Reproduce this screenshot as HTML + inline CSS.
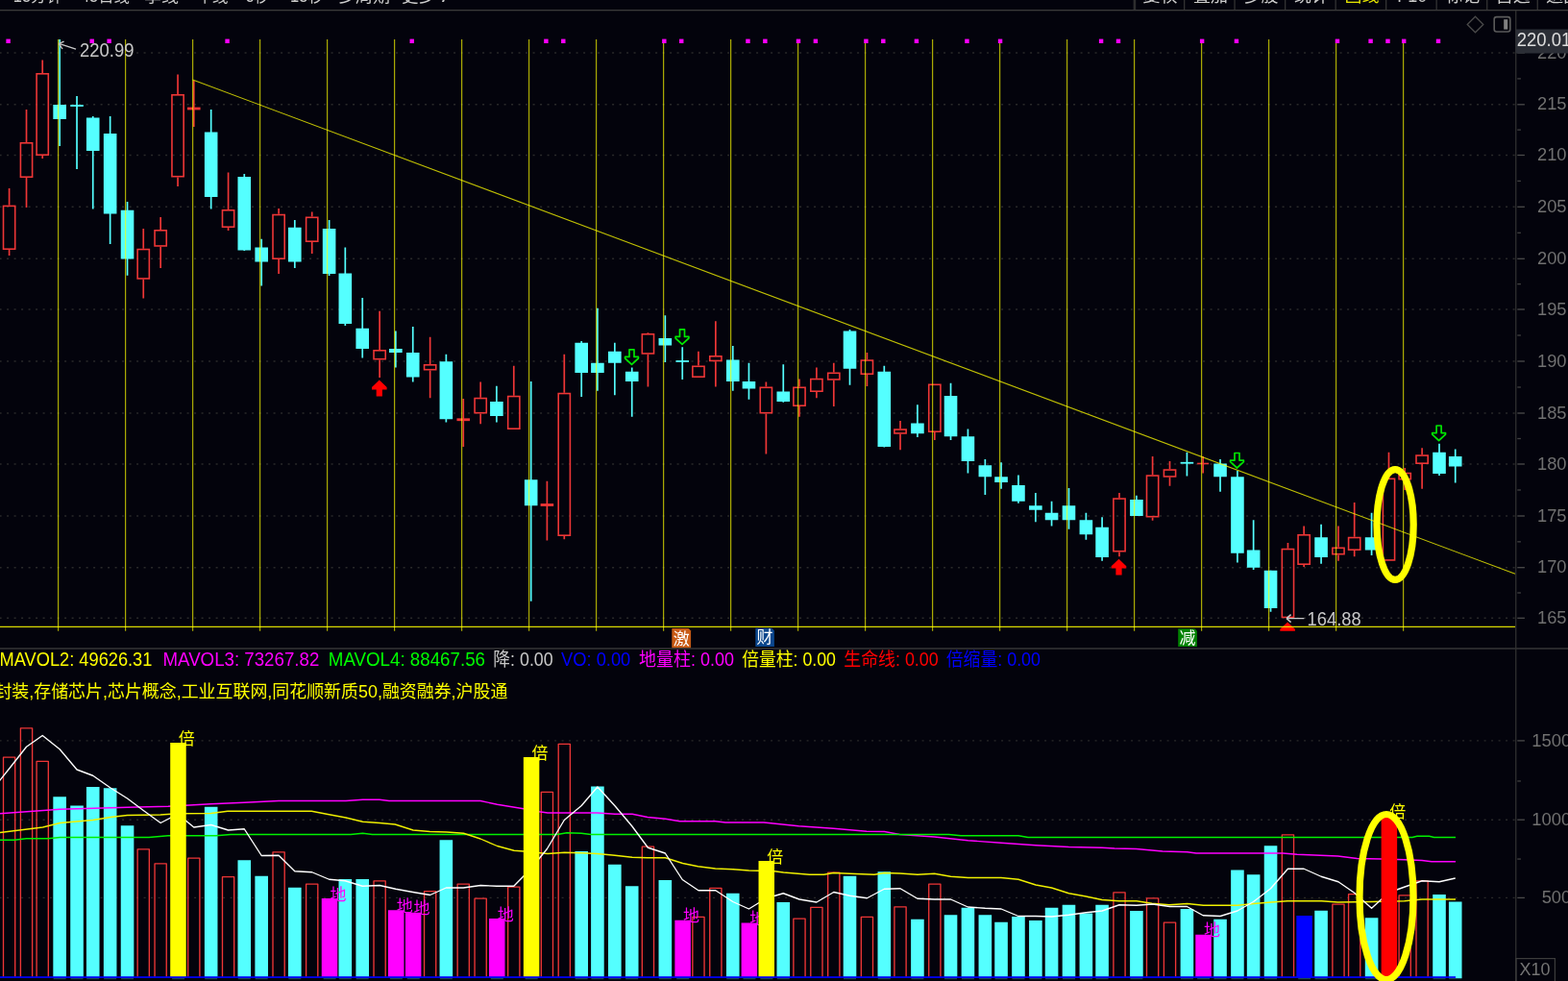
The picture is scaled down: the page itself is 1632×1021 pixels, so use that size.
<!DOCTYPE html>
<html lang="zh-CN"><head><meta charset="utf-8"><title>K线图</title>
<style>html,body{margin:0;padding:0;background:#03030c;overflow:hidden}svg{display:block}text{font-family:"Liberation Sans","Noto Sans CJK SC",sans-serif}</style>
</head><body>
<svg width="1632" height="1021" viewBox="0 0 1632 1021">
<rect x="0" y="0" width="1632" height="1021" fill="#03030c"/>
<g id="toolbar">
<rect x="0" y="10" width="1632" height="1.3" fill="#3a3a3a"/>
<text x="13.8" y="2.4" font-size="17.6" fill="#cccccc" textLength="51.2" lengthAdjust="spacingAndGlyphs">15分钟</text>
<text x="84" y="2.4" font-size="17.6" fill="#cccccc" textLength="51" lengthAdjust="spacingAndGlyphs">45日线</text>
<text x="150" y="2.4" font-size="17.6" fill="#cccccc" textLength="36" lengthAdjust="spacingAndGlyphs">季线</text>
<text x="204" y="2.4" font-size="17.6" fill="#cccccc" textLength="33.5" lengthAdjust="spacingAndGlyphs">年线</text>
<text x="256" y="2.4" font-size="17.6" fill="#cccccc" textLength="24" lengthAdjust="spacingAndGlyphs">5秒</text>
<text x="302" y="2.4" font-size="17.6" fill="#cccccc" textLength="35" lengthAdjust="spacingAndGlyphs">15秒</text>
<text x="352" y="2.4" font-size="17.6" fill="#cccccc" textLength="54" lengthAdjust="spacingAndGlyphs">多周期</text>
<text x="418" y="2.4" font-size="17.6" fill="#cccccc" textLength="35" lengthAdjust="spacingAndGlyphs">更多</text>
<text x="460" y="2.4" font-size="17.6" fill="#cccccc" textLength="7" lengthAdjust="spacingAndGlyphs">/</text>
<rect x="1179.6" y="0" width="2.6" height="10" fill="#2e2e2e"/>
<rect x="1232" y="0" width="1.3" height="10" fill="#333333"/>
<rect x="1284.4" y="0" width="1.3" height="10" fill="#333333"/>
<rect x="1337" y="0" width="1.3" height="10" fill="#333333"/>
<rect x="1389.5" y="0" width="1.3" height="10" fill="#333333"/>
<rect x="1442" y="0" width="1.3" height="10" fill="#333333"/>
<rect x="1494.5" y="0" width="1.3" height="10" fill="#333333"/>
<rect x="1547.1" y="0" width="1.3" height="10" fill="#333333"/>
<rect x="1599.6" y="0" width="1.3" height="10" fill="#333333"/>
<text x="1207.6" y="2.3" font-size="18" fill="#cccccc" text-anchor="middle">复权</text>
<text x="1260.05" y="2.3" font-size="18" fill="#cccccc" text-anchor="middle">叠加</text>
<text x="1312.5" y="2.3" font-size="18" fill="#cccccc" text-anchor="middle">多股</text>
<text x="1364.95" y="2.3" font-size="18" fill="#cccccc" text-anchor="middle">统计</text>
<text x="1417.4" y="2.3" font-size="18" fill="#e6e600" text-anchor="middle">画线</text>
<text x="1469.85" y="2.3" font-size="18" fill="#cccccc" text-anchor="middle">F10</text>
<text x="1522.3" y="2.3" font-size="18" fill="#cccccc" text-anchor="middle">标记</text>
<text x="1574.75" y="2.3" font-size="18" fill="#cccccc" text-anchor="middle">自选</text>
<text x="1627.2" y="2.3" font-size="18" fill="#cccccc" text-anchor="middle">返回</text>
</g>
<g id="grid" stroke="#2a2a2a" stroke-width="1.4" stroke-dasharray="2 5.5" fill="none">
<line x1="-0.4" y1="55" x2="1577" y2="55"/>
<line x1="-0.4" y1="108.8" x2="1577" y2="108.8"/>
<line x1="-0.4" y1="161.5" x2="1577" y2="161.5"/>
<line x1="-0.4" y1="215.3" x2="1577" y2="215.3"/>
<line x1="-0.4" y1="269.3" x2="1577" y2="269.3"/>
<line x1="-0.4" y1="322" x2="1577" y2="322"/>
<line x1="-0.4" y1="376" x2="1577" y2="376"/>
<line x1="-0.4" y1="430" x2="1577" y2="430"/>
<line x1="-0.4" y1="483" x2="1577" y2="483"/>
<line x1="-0.4" y1="537" x2="1577" y2="537"/>
<line x1="-0.4" y1="590.7" x2="1577" y2="590.7"/>
<line x1="-0.4" y1="643.3" x2="1577" y2="643.3"/>
<line x1="-0.4" y1="770.9" x2="1577" y2="770.9"/>
<line x1="-0.4" y1="853.2" x2="1577" y2="853.2"/>
<line x1="-0.4" y1="934.4" x2="1577" y2="934.4"/>
</g>
<g id="candles">
<line x1="9.6" y1="196" x2="9.6" y2="213.6" stroke="#ee3636" stroke-width="1.7"/>
<line x1="9.6" y1="260" x2="9.6" y2="266" stroke="#ee3636" stroke-width="1.7"/>
<rect x="3.5" y="214.4" width="12.2" height="44.8" fill="none" stroke="#ee3636" stroke-width="1.6"/>
<line x1="27.51" y1="114" x2="27.51" y2="148" stroke="#ee3636" stroke-width="1.7"/>
<line x1="27.51" y1="185" x2="27.51" y2="216" stroke="#ee3636" stroke-width="1.7"/>
<rect x="21.41" y="148.8" width="12.2" height="35.4" fill="none" stroke="#ee3636" stroke-width="1.6"/>
<line x1="44.21" y1="62.5" x2="44.21" y2="76" stroke="#ee3636" stroke-width="1.7"/>
<line x1="44.21" y1="162" x2="44.21" y2="165" stroke="#ee3636" stroke-width="1.7"/>
<rect x="38.11" y="76.8" width="12.2" height="84.4" fill="none" stroke="#ee3636" stroke-width="1.6"/>
<line x1="62.12" y1="41" x2="62.12" y2="152" stroke="#54ffff" stroke-width="1.7"/>
<rect x="55.32" y="109" width="13.6" height="15" fill="#54ffff"/>
<line x1="80.02" y1="100" x2="80.02" y2="176" stroke="#54ffff" stroke-width="1.7"/>
<rect x="73.22" y="109.1" width="13.6" height="1.8" fill="#54ffff"/>
<line x1="96.73" y1="121" x2="96.73" y2="217.5" stroke="#54ffff" stroke-width="1.7"/>
<rect x="89.93" y="122.5" width="13.6" height="34.5" fill="#54ffff"/>
<line x1="114.64" y1="121" x2="114.64" y2="254" stroke="#54ffff" stroke-width="1.7"/>
<rect x="107.84" y="139" width="13.6" height="83.5" fill="#54ffff"/>
<line x1="132.54" y1="210" x2="132.54" y2="286.75" stroke="#54ffff" stroke-width="1.7"/>
<rect x="125.74" y="218.75" width="13.6" height="50.75" fill="#54ffff"/>
<line x1="149.25" y1="238" x2="149.25" y2="258.75" stroke="#ee3636" stroke-width="1.7"/>
<line x1="149.25" y1="290.75" x2="149.25" y2="310.5" stroke="#ee3636" stroke-width="1.7"/>
<rect x="143.15" y="259.55" width="12.2" height="30.4" fill="none" stroke="#ee3636" stroke-width="1.6"/>
<line x1="167.15" y1="226" x2="167.15" y2="239" stroke="#ee3636" stroke-width="1.7"/>
<line x1="167.15" y1="256.75" x2="167.15" y2="279" stroke="#ee3636" stroke-width="1.7"/>
<rect x="161.05" y="239.8" width="12.2" height="16.15" fill="none" stroke="#ee3636" stroke-width="1.6"/>
<line x1="185.06" y1="77.5" x2="185.06" y2="98" stroke="#ee3636" stroke-width="1.7"/>
<line x1="185.06" y1="184.5" x2="185.06" y2="194" stroke="#ee3636" stroke-width="1.7"/>
<rect x="178.96" y="98.8" width="12.2" height="84.9" fill="none" stroke="#ee3636" stroke-width="1.6"/>
<line x1="201.77" y1="84" x2="201.77" y2="132" stroke="#ee3636" stroke-width="1.7"/>
<rect x="194.97" y="111.6" width="13.6" height="2.8" fill="#ee3636"/>
<line x1="219.67" y1="114" x2="219.67" y2="217.5" stroke="#54ffff" stroke-width="1.7"/>
<rect x="212.87" y="137.5" width="13.6" height="67.5" fill="#54ffff"/>
<line x1="237.58" y1="179.5" x2="237.58" y2="218" stroke="#ee3636" stroke-width="1.7"/>
<line x1="237.58" y1="237" x2="237.58" y2="240" stroke="#ee3636" stroke-width="1.7"/>
<rect x="231.48" y="218.8" width="12.2" height="17.4" fill="none" stroke="#ee3636" stroke-width="1.6"/>
<line x1="254.28" y1="181" x2="254.28" y2="261" stroke="#54ffff" stroke-width="1.7"/>
<rect x="247.48" y="184" width="13.6" height="76.5" fill="#54ffff"/>
<line x1="272.19" y1="248.75" x2="272.19" y2="297.5" stroke="#54ffff" stroke-width="1.7"/>
<rect x="265.39" y="257.5" width="13.6" height="15" fill="#54ffff"/>
<line x1="290.1" y1="217" x2="290.1" y2="222.75" stroke="#ee3636" stroke-width="1.7"/>
<line x1="290.1" y1="270" x2="290.1" y2="285" stroke="#ee3636" stroke-width="1.7"/>
<rect x="284" y="223.55" width="12.2" height="45.65" fill="none" stroke="#ee3636" stroke-width="1.6"/>
<line x1="306.8" y1="229" x2="306.8" y2="279" stroke="#54ffff" stroke-width="1.7"/>
<rect x="300" y="236.75" width="13.6" height="35.75" fill="#54ffff"/>
<line x1="324.71" y1="220.5" x2="324.71" y2="225.5" stroke="#ee3636" stroke-width="1.7"/>
<line x1="324.71" y1="252" x2="324.71" y2="264" stroke="#ee3636" stroke-width="1.7"/>
<rect x="318.61" y="226.3" width="12.2" height="24.9" fill="none" stroke="#ee3636" stroke-width="1.6"/>
<line x1="342.61" y1="229" x2="342.61" y2="287" stroke="#54ffff" stroke-width="1.7"/>
<rect x="335.81" y="238" width="13.6" height="47" fill="#54ffff"/>
<line x1="359.32" y1="257.5" x2="359.32" y2="339" stroke="#54ffff" stroke-width="1.7"/>
<rect x="352.52" y="284.5" width="13.6" height="52.5" fill="#54ffff"/>
<line x1="377.23" y1="310" x2="377.23" y2="372.5" stroke="#54ffff" stroke-width="1.7"/>
<rect x="370.43" y="341.75" width="13.6" height="21.25" fill="#54ffff"/>
<line x1="395.13" y1="323.75" x2="395.13" y2="364" stroke="#ee3636" stroke-width="1.7"/>
<line x1="395.13" y1="374.5" x2="395.13" y2="393" stroke="#ee3636" stroke-width="1.7"/>
<rect x="389.03" y="364.8" width="12.2" height="8.9" fill="none" stroke="#ee3636" stroke-width="1.6"/>
<line x1="411.84" y1="344.5" x2="411.84" y2="382.5" stroke="#54ffff" stroke-width="1.7"/>
<rect x="405.04" y="363" width="13.6" height="4" fill="#54ffff"/>
<line x1="429.74" y1="340" x2="429.74" y2="397.5" stroke="#54ffff" stroke-width="1.7"/>
<rect x="422.94" y="367" width="13.6" height="25.5" fill="#54ffff"/>
<line x1="447.65" y1="350.75" x2="447.65" y2="379" stroke="#ee3636" stroke-width="1.7"/>
<line x1="447.65" y1="385.5" x2="447.65" y2="414.25" stroke="#ee3636" stroke-width="1.7"/>
<rect x="441.55" y="379.8" width="12.2" height="4.9" fill="none" stroke="#ee3636" stroke-width="1.6"/>
<line x1="464.36" y1="368.75" x2="464.36" y2="439.5" stroke="#54ffff" stroke-width="1.7"/>
<rect x="457.56" y="376.25" width="13.6" height="60" fill="#54ffff"/>
<line x1="482.26" y1="415" x2="482.26" y2="465" stroke="#ee3636" stroke-width="1.7"/>
<rect x="475.46" y="435.35" width="13.6" height="2.8" fill="#ee3636"/>
<line x1="500.17" y1="397.5" x2="500.17" y2="413.75" stroke="#ee3636" stroke-width="1.7"/>
<line x1="500.17" y1="430.5" x2="500.17" y2="441.25" stroke="#ee3636" stroke-width="1.7"/>
<rect x="494.07" y="414.55" width="12.2" height="15.15" fill="none" stroke="#ee3636" stroke-width="1.6"/>
<line x1="516.87" y1="401.75" x2="516.87" y2="439.5" stroke="#54ffff" stroke-width="1.7"/>
<rect x="510.07" y="418" width="13.6" height="15" fill="#54ffff"/>
<line x1="534.78" y1="380.75" x2="534.78" y2="411.75" stroke="#ee3636" stroke-width="1.7"/>
<rect x="528.68" y="412.55" width="12.2" height="33.65" fill="none" stroke="#ee3636" stroke-width="1.6"/>
<line x1="552.69" y1="397" x2="552.69" y2="625.75" stroke="#54ffff" stroke-width="1.7"/>
<rect x="545.89" y="499.25" width="13.6" height="27" fill="#54ffff"/>
<line x1="569.39" y1="500.75" x2="569.39" y2="562.5" stroke="#ee3636" stroke-width="1.7"/>
<rect x="562.59" y="524.1" width="13.6" height="2.8" fill="#ee3636"/>
<line x1="587.3" y1="368.75" x2="587.3" y2="408.75" stroke="#ee3636" stroke-width="1.7"/>
<line x1="587.3" y1="558" x2="587.3" y2="561.25" stroke="#ee3636" stroke-width="1.7"/>
<rect x="581.2" y="409.55" width="12.2" height="147.65" fill="none" stroke="#ee3636" stroke-width="1.6"/>
<line x1="605.2" y1="355" x2="605.2" y2="413" stroke="#54ffff" stroke-width="1.7"/>
<rect x="598.4" y="356.75" width="13.6" height="31.25" fill="#54ffff"/>
<line x1="621.91" y1="320.75" x2="621.91" y2="406.75" stroke="#54ffff" stroke-width="1.7"/>
<rect x="615.11" y="377.75" width="13.6" height="10.25" fill="#54ffff"/>
<line x1="639.82" y1="356.75" x2="639.82" y2="411.25" stroke="#54ffff" stroke-width="1.7"/>
<rect x="633.02" y="365.75" width="13.6" height="12" fill="#54ffff"/>
<line x1="657.72" y1="382.5" x2="657.72" y2="433.75" stroke="#54ffff" stroke-width="1.7"/>
<rect x="650.92" y="386.75" width="13.6" height="10.25" fill="#54ffff"/>
<line x1="674.43" y1="346.25" x2="674.43" y2="347" stroke="#ee3636" stroke-width="1.7"/>
<line x1="674.43" y1="368.75" x2="674.43" y2="402.5" stroke="#ee3636" stroke-width="1.7"/>
<rect x="668.33" y="347.8" width="12.2" height="20.15" fill="none" stroke="#ee3636" stroke-width="1.6"/>
<line x1="692.33" y1="328.25" x2="692.33" y2="377" stroke="#54ffff" stroke-width="1.7"/>
<rect x="685.53" y="352" width="13.6" height="7.5" fill="#54ffff"/>
<line x1="710.24" y1="361.25" x2="710.24" y2="395" stroke="#54ffff" stroke-width="1.7"/>
<rect x="703.44" y="375.1" width="13.6" height="1.8" fill="#54ffff"/>
<line x1="726.95" y1="365.75" x2="726.95" y2="380.5" stroke="#ee3636" stroke-width="1.7"/>
<rect x="720.85" y="381.3" width="12.2" height="10.9" fill="none" stroke="#ee3636" stroke-width="1.6"/>
<line x1="744.85" y1="334.25" x2="744.85" y2="370" stroke="#ee3636" stroke-width="1.7"/>
<line x1="744.85" y1="376.25" x2="744.85" y2="402.5" stroke="#ee3636" stroke-width="1.7"/>
<rect x="738.75" y="370.8" width="12.2" height="4.65" fill="none" stroke="#ee3636" stroke-width="1.6"/>
<line x1="762.76" y1="360" x2="762.76" y2="406.75" stroke="#54ffff" stroke-width="1.7"/>
<rect x="755.96" y="374.5" width="13.6" height="22.5" fill="#54ffff"/>
<line x1="779.46" y1="377.75" x2="779.46" y2="415.75" stroke="#54ffff" stroke-width="1.7"/>
<rect x="772.66" y="397" width="13.6" height="7.5" fill="#54ffff"/>
<line x1="797.37" y1="397.5" x2="797.37" y2="402.5" stroke="#ee3636" stroke-width="1.7"/>
<line x1="797.37" y1="430.5" x2="797.37" y2="472.5" stroke="#ee3636" stroke-width="1.7"/>
<rect x="791.27" y="403.3" width="12.2" height="26.4" fill="none" stroke="#ee3636" stroke-width="1.6"/>
<line x1="815.28" y1="379.25" x2="815.28" y2="418.75" stroke="#54ffff" stroke-width="1.7"/>
<rect x="808.48" y="407.5" width="13.6" height="10.5" fill="#54ffff"/>
<line x1="831.98" y1="394.5" x2="831.98" y2="402.5" stroke="#ee3636" stroke-width="1.7"/>
<line x1="831.98" y1="423" x2="831.98" y2="433.75" stroke="#ee3636" stroke-width="1.7"/>
<rect x="825.88" y="403.3" width="12.2" height="18.9" fill="none" stroke="#ee3636" stroke-width="1.6"/>
<line x1="849.89" y1="382.5" x2="849.89" y2="393.75" stroke="#ee3636" stroke-width="1.7"/>
<line x1="849.89" y1="408" x2="849.89" y2="414.25" stroke="#ee3636" stroke-width="1.7"/>
<rect x="843.79" y="394.55" width="12.2" height="12.65" fill="none" stroke="#ee3636" stroke-width="1.6"/>
<line x1="867.79" y1="377.75" x2="867.79" y2="387.5" stroke="#ee3636" stroke-width="1.7"/>
<line x1="867.79" y1="395.75" x2="867.79" y2="423" stroke="#ee3636" stroke-width="1.7"/>
<rect x="861.69" y="388.3" width="12.2" height="6.65" fill="none" stroke="#ee3636" stroke-width="1.6"/>
<line x1="884.5" y1="343" x2="884.5" y2="400.75" stroke="#54ffff" stroke-width="1.7"/>
<rect x="877.7" y="344.5" width="13.6" height="39.25" fill="#54ffff"/>
<line x1="902.41" y1="367" x2="902.41" y2="374.25" stroke="#ee3636" stroke-width="1.7"/>
<line x1="902.41" y1="390" x2="902.41" y2="402" stroke="#ee3636" stroke-width="1.7"/>
<rect x="896.31" y="375.05" width="12.2" height="14.15" fill="none" stroke="#ee3636" stroke-width="1.6"/>
<line x1="920.31" y1="380.75" x2="920.31" y2="465.5" stroke="#54ffff" stroke-width="1.7"/>
<rect x="913.51" y="386.75" width="13.6" height="78.25" fill="#54ffff"/>
<line x1="937.02" y1="438" x2="937.02" y2="446.25" stroke="#ee3636" stroke-width="1.7"/>
<line x1="937.02" y1="451.75" x2="937.02" y2="468.25" stroke="#ee3636" stroke-width="1.7"/>
<rect x="930.92" y="447.05" width="12.2" height="3.9" fill="none" stroke="#ee3636" stroke-width="1.6"/>
<line x1="954.92" y1="421.25" x2="954.92" y2="455" stroke="#54ffff" stroke-width="1.7"/>
<rect x="948.12" y="440.5" width="13.6" height="10.75" fill="#54ffff"/>
<line x1="972.83" y1="450" x2="972.83" y2="458" stroke="#ee3636" stroke-width="1.7"/>
<rect x="966.73" y="400.3" width="12.2" height="48.9" fill="none" stroke="#ee3636" stroke-width="1.6"/>
<line x1="989.54" y1="398.75" x2="989.54" y2="458" stroke="#54ffff" stroke-width="1.7"/>
<rect x="982.74" y="412" width="13.6" height="42.25" fill="#54ffff"/>
<line x1="1007.44" y1="446.5" x2="1007.44" y2="492.5" stroke="#54ffff" stroke-width="1.7"/>
<rect x="1000.64" y="454.25" width="13.6" height="25.75" fill="#54ffff"/>
<line x1="1025.35" y1="478" x2="1025.35" y2="515" stroke="#54ffff" stroke-width="1.7"/>
<rect x="1018.55" y="484.25" width="13.6" height="12" fill="#54ffff"/>
<line x1="1042.05" y1="481.25" x2="1042.05" y2="508.75" stroke="#54ffff" stroke-width="1.7"/>
<rect x="1035.25" y="496.25" width="13.6" height="5.75" fill="#54ffff"/>
<line x1="1059.96" y1="494.5" x2="1059.96" y2="523.75" stroke="#54ffff" stroke-width="1.7"/>
<rect x="1053.16" y="505" width="13.6" height="16.75" fill="#54ffff"/>
<line x1="1077.87" y1="513" x2="1077.87" y2="543.25" stroke="#54ffff" stroke-width="1.7"/>
<rect x="1071.07" y="526.25" width="13.6" height="4.5" fill="#54ffff"/>
<line x1="1094.57" y1="521.75" x2="1094.57" y2="547.5" stroke="#54ffff" stroke-width="1.7"/>
<rect x="1087.77" y="533.75" width="13.6" height="7.5" fill="#54ffff"/>
<line x1="1112.48" y1="508" x2="1112.48" y2="550.75" stroke="#54ffff" stroke-width="1.7"/>
<rect x="1105.68" y="526.25" width="13.6" height="15" fill="#54ffff"/>
<line x1="1130.38" y1="533.75" x2="1130.38" y2="561.75" stroke="#54ffff" stroke-width="1.7"/>
<rect x="1123.58" y="541.25" width="13.6" height="15" fill="#54ffff"/>
<line x1="1147.09" y1="538.25" x2="1147.09" y2="583.75" stroke="#54ffff" stroke-width="1.7"/>
<rect x="1140.29" y="548.75" width="13.6" height="31.25" fill="#54ffff"/>
<line x1="1165" y1="513" x2="1165" y2="518.25" stroke="#ee3636" stroke-width="1.7"/>
<line x1="1165" y1="574.5" x2="1165" y2="579.25" stroke="#ee3636" stroke-width="1.7"/>
<rect x="1158.9" y="519.05" width="12.2" height="54.65" fill="none" stroke="#ee3636" stroke-width="1.6"/>
<line x1="1182.9" y1="515.75" x2="1182.9" y2="537" stroke="#54ffff" stroke-width="1.7"/>
<rect x="1176.1" y="520" width="13.6" height="17" fill="#54ffff"/>
<line x1="1199.61" y1="475" x2="1199.61" y2="494.25" stroke="#ee3636" stroke-width="1.7"/>
<line x1="1199.61" y1="538.5" x2="1199.61" y2="541.75" stroke="#ee3636" stroke-width="1.7"/>
<rect x="1193.51" y="495.05" width="12.2" height="42.65" fill="none" stroke="#ee3636" stroke-width="1.6"/>
<line x1="1217.51" y1="480" x2="1217.51" y2="488.25" stroke="#ee3636" stroke-width="1.7"/>
<line x1="1217.51" y1="496.75" x2="1217.51" y2="505.75" stroke="#ee3636" stroke-width="1.7"/>
<rect x="1211.41" y="489.05" width="12.2" height="6.9" fill="none" stroke="#ee3636" stroke-width="1.6"/>
<line x1="1235.42" y1="470.75" x2="1235.42" y2="495.5" stroke="#54ffff" stroke-width="1.7"/>
<rect x="1228.62" y="480.85" width="13.6" height="1.8" fill="#54ffff"/>
<line x1="1252.13" y1="475" x2="1252.13" y2="492.5" stroke="#ee3636" stroke-width="1.7"/>
<rect x="1246.13" y="481.7" width="12" height="1.6" fill="#ee3636"/>
<line x1="1270.03" y1="478" x2="1270.03" y2="511.75" stroke="#54ffff" stroke-width="1.7"/>
<rect x="1263.23" y="482.5" width="13.6" height="13.75" fill="#54ffff"/>
<line x1="1287.94" y1="490" x2="1287.94" y2="585.5" stroke="#54ffff" stroke-width="1.7"/>
<rect x="1281.14" y="496.25" width="13.6" height="79.5" fill="#54ffff"/>
<line x1="1304.64" y1="541.25" x2="1304.64" y2="593" stroke="#54ffff" stroke-width="1.7"/>
<rect x="1297.84" y="572.5" width="13.6" height="18.25" fill="#54ffff"/>
<line x1="1322.55" y1="593.75" x2="1322.55" y2="636.75" stroke="#54ffff" stroke-width="1.7"/>
<rect x="1315.75" y="593.75" width="13.6" height="39.25" fill="#54ffff"/>
<line x1="1340.46" y1="565" x2="1340.46" y2="570.75" stroke="#ee3636" stroke-width="1.7"/>
<rect x="1334.36" y="571.55" width="12.2" height="70.9" fill="none" stroke="#ee3636" stroke-width="1.6"/>
<line x1="1357.16" y1="547.5" x2="1357.16" y2="556" stroke="#ee3636" stroke-width="1.7"/>
<line x1="1357.16" y1="588" x2="1357.16" y2="590" stroke="#ee3636" stroke-width="1.7"/>
<rect x="1351.06" y="556.8" width="12.2" height="30.4" fill="none" stroke="#ee3636" stroke-width="1.6"/>
<line x1="1375.07" y1="545.75" x2="1375.07" y2="586.75" stroke="#54ffff" stroke-width="1.7"/>
<rect x="1368.27" y="559.25" width="13.6" height="20.75" fill="#54ffff"/>
<line x1="1392.97" y1="547.5" x2="1392.97" y2="569.5" stroke="#ee3636" stroke-width="1.7"/>
<line x1="1392.97" y1="577.5" x2="1392.97" y2="583.75" stroke="#ee3636" stroke-width="1.7"/>
<rect x="1386.87" y="570.3" width="12.2" height="6.4" fill="none" stroke="#ee3636" stroke-width="1.6"/>
<line x1="1409.68" y1="523" x2="1409.68" y2="558.75" stroke="#ee3636" stroke-width="1.7"/>
<line x1="1409.68" y1="573" x2="1409.68" y2="579.25" stroke="#ee3636" stroke-width="1.7"/>
<rect x="1403.58" y="559.55" width="12.2" height="12.65" fill="none" stroke="#ee3636" stroke-width="1.6"/>
<line x1="1427.59" y1="533.75" x2="1427.59" y2="578" stroke="#54ffff" stroke-width="1.7"/>
<rect x="1420.79" y="559.25" width="13.6" height="13.25" fill="#54ffff"/>
<line x1="1445.49" y1="470.75" x2="1445.49" y2="497.5" stroke="#ee3636" stroke-width="1.7"/>
<rect x="1439.39" y="498.3" width="12.2" height="84.65" fill="none" stroke="#ee3636" stroke-width="1.6"/>
<line x1="1462.2" y1="487" x2="1462.2" y2="491.75" stroke="#ee3636" stroke-width="1.7"/>
<line x1="1462.2" y1="499.5" x2="1462.2" y2="510" stroke="#ee3636" stroke-width="1.7"/>
<rect x="1456.1" y="492.55" width="12.2" height="6.15" fill="none" stroke="#ee3636" stroke-width="1.6"/>
<line x1="1480.1" y1="466.25" x2="1480.1" y2="473.25" stroke="#ee3636" stroke-width="1.7"/>
<line x1="1480.1" y1="483" x2="1480.1" y2="508.75" stroke="#ee3636" stroke-width="1.7"/>
<rect x="1474" y="474.05" width="12.2" height="8.15" fill="none" stroke="#ee3636" stroke-width="1.6"/>
<line x1="1498.01" y1="461.75" x2="1498.01" y2="495" stroke="#54ffff" stroke-width="1.7"/>
<rect x="1491.21" y="470.75" width="13.6" height="22.25" fill="#54ffff"/>
<line x1="1514.72" y1="467.5" x2="1514.72" y2="502.5" stroke="#54ffff" stroke-width="1.7"/>
<rect x="1507.92" y="475" width="13.6" height="10.5" fill="#54ffff"/>
</g>
<g id="ylines" stroke="#ffff00" stroke-opacity="0.66" stroke-width="1.25">
<line x1="60.6" y1="41" x2="60.6" y2="656.8"/>
<line x1="130.6" y1="41" x2="130.6" y2="656.8"/>
<line x1="200.6" y1="41" x2="200.6" y2="656.8"/>
<line x1="270.6" y1="41" x2="270.6" y2="656.8"/>
<line x1="340.6" y1="41" x2="340.6" y2="656.8"/>
<line x1="410.6" y1="41" x2="410.6" y2="656.8"/>
<line x1="480.6" y1="41" x2="480.6" y2="656.8"/>
<line x1="550.6" y1="41" x2="550.6" y2="656.8"/>
<line x1="620.6" y1="41" x2="620.6" y2="656.8"/>
<line x1="690.6" y1="41" x2="690.6" y2="656.8"/>
<line x1="760.6" y1="41" x2="760.6" y2="656.8"/>
<line x1="830.6" y1="41" x2="830.6" y2="656.8"/>
<line x1="900.6" y1="41" x2="900.6" y2="656.8"/>
<line x1="970.6" y1="41" x2="970.6" y2="656.8"/>
<line x1="1040.6" y1="41" x2="1040.6" y2="656.8"/>
<line x1="1110.6" y1="41" x2="1110.6" y2="656.8"/>
<line x1="1180.6" y1="41" x2="1180.6" y2="656.8"/>
<line x1="1250.6" y1="41" x2="1250.6" y2="656.8"/>
<line x1="1320.6" y1="41" x2="1320.6" y2="656.8"/>
<line x1="1390.6" y1="41" x2="1390.6" y2="656.8"/>
<line x1="1460.6" y1="41" x2="1460.6" y2="656.8"/>
</g>
<line x1="200.5" y1="83" x2="1577" y2="597.3" stroke="#ffff00" stroke-opacity="0.75" stroke-width="1.1"/>
<g id="dots" fill="#ff00ff">
<rect x="6.4" y="40.6" width="4.4" height="4.4"/>
<rect x="93.53" y="40.6" width="4.4" height="4.4"/>
<rect x="111.44" y="40.6" width="4.4" height="4.4"/>
<rect x="234.38" y="40.6" width="4.4" height="4.4"/>
<rect x="426.54" y="40.6" width="4.4" height="4.4"/>
<rect x="566.19" y="40.6" width="4.4" height="4.4"/>
<rect x="584.1" y="40.6" width="4.4" height="4.4"/>
<rect x="689.13" y="40.6" width="4.4" height="4.4"/>
<rect x="707.04" y="40.6" width="4.4" height="4.4"/>
<rect x="776.26" y="40.6" width="4.4" height="4.4"/>
<rect x="794.17" y="40.6" width="4.4" height="4.4"/>
<rect x="828.78" y="40.6" width="4.4" height="4.4"/>
<rect x="846.69" y="40.6" width="4.4" height="4.4"/>
<rect x="899.21" y="40.6" width="4.4" height="4.4"/>
<rect x="917.11" y="40.6" width="4.4" height="4.4"/>
<rect x="951.72" y="40.6" width="4.4" height="4.4"/>
<rect x="1004.24" y="40.6" width="4.4" height="4.4"/>
<rect x="1038.85" y="40.6" width="4.4" height="4.4"/>
<rect x="1143.89" y="40.6" width="4.4" height="4.4"/>
<rect x="1161.8" y="40.6" width="4.4" height="4.4"/>
<rect x="1248.93" y="40.6" width="4.4" height="4.4"/>
<rect x="1284.74" y="40.6" width="4.4" height="4.4"/>
<rect x="1389.77" y="40.6" width="4.4" height="4.4"/>
<rect x="1424.39" y="40.6" width="4.4" height="4.4"/>
<rect x="1442.29" y="40.6" width="4.4" height="4.4"/>
<rect x="1459" y="40.6" width="4.4" height="4.4"/>
<rect x="1494.81" y="40.6" width="4.4" height="4.4"/>
</g>
<g id="arrows">
<path d="M394.8 395.6 l7.8 7.4 v2.4 h-4.7 v7 h-6.2 v-7 h-4.7 v-2.4 z" fill="#ff0000"/>
<path d="M1164.5 581.8 l7.8 7.4 v2.4 h-4.7 v7 h-6.2 v-7 h-4.7 v-2.4 z" fill="#ff0000"/>
<path d="M655 363.8 h5 v7.6 h4.4 v1.6 l-6.9 6.3 l-6.9 -6.3 v-1.6 h4.4 z" fill="none" stroke="#00e600" stroke-width="1.7" stroke-linejoin="round"/>
<path d="M707.5 342.8 h5 v7.6 h4.4 v1.6 l-6.9 6.3 l-6.9 -6.3 v-1.6 h4.4 z" fill="none" stroke="#00e600" stroke-width="1.7" stroke-linejoin="round"/>
<path d="M1285 471.5 h5 v7.6 h4.4 v1.6 l-6.9 6.3 l-6.9 -6.3 v-1.6 h4.4 z" fill="none" stroke="#00e600" stroke-width="1.7" stroke-linejoin="round"/>
<path d="M1495.1 443 h5 v7.6 h4.4 v1.6 l-6.9 6.3 l-6.9 -6.3 v-1.6 h4.4 z" fill="none" stroke="#00e600" stroke-width="1.7" stroke-linejoin="round"/>
<path d="M1340.1 647.6 l7.8 7.2 v2 h-15.6 v-2 z" fill="#ff0000"/>
</g>
<line x1="0" y1="652.3" x2="1577" y2="652.3" stroke="#ffff00" stroke-opacity="0.85" stroke-width="1.3"/>
<ellipse cx="1452.1" cy="546" rx="19.1" ry="57.4" fill="none" stroke="#ffff00" stroke-width="7.2"/>
<g id="hl" fill="#c8c8c8" stroke="none">
<path d="M61.4 45.3 L79 51.2 M61.4 45.3 L66.6 43.2 M61.4 45.3 L65 51" stroke="#c8c8c8" stroke-width="1.4" fill="none"/>
<text x="83" y="59" font-size="19.5" textLength="56.4" lengthAdjust="spacingAndGlyphs">220.99</text>
<path d="M1339 643.6 H1357.4 M1339 643.6 L1343.6 639.6 M1339 643.6 L1343.6 647.6" stroke="#c8c8c8" stroke-width="1.4" fill="none"/>
<text x="1360.6" y="650.5" font-size="19.5" textLength="56" lengthAdjust="spacingAndGlyphs">164.88</text>
</g>
<g id="badges">
<path d="M699.3 654 h17.3 l2.5 2.5 v18.1 h-19.8 z" fill="#c85a14"/><text x="709.2" y="671" font-size="17" fill="#ffffff" text-anchor="middle">激</text>
<path d="M786.3 653.8 h17.1 l2.5 2.5 v16.7 h-19.6 z" fill="#0a468c"/><text x="796.1" y="669.4" font-size="17" fill="#ffffff" text-anchor="middle">财</text>
<path d="M1226.2 654.3 h17.2 l2.5 2.5 v16.3 h-19.7 z" fill="#008200"/><text x="1236.05" y="669.5" font-size="17" fill="#ffffff" text-anchor="middle">减</text>
</g>
<rect x="0" y="674.3" width="1632" height="1.4" fill="#3a3a3a"/>
<g id="axis">
<rect x="1577.1" y="11" width="1.3" height="1010" fill="#303030"/>
<rect x="1579.3" y="54.35" width="7.6" height="1.3" fill="#4a4a4a"/>
<rect x="1579.3" y="81.25" width="3.6" height="1.3" fill="#404040"/>
<text x="1600" y="60.6" font-size="19" fill="#707070" textLength="30.5" lengthAdjust="spacingAndGlyphs">220</text>
<rect x="1579.3" y="108.15" width="7.6" height="1.3" fill="#4a4a4a"/>
<rect x="1579.3" y="134.5" width="3.6" height="1.3" fill="#404040"/>
<text x="1600" y="114.4" font-size="19" fill="#707070" textLength="30.5" lengthAdjust="spacingAndGlyphs">215</text>
<rect x="1579.3" y="160.85" width="7.6" height="1.3" fill="#4a4a4a"/>
<rect x="1579.3" y="187.75" width="3.6" height="1.3" fill="#404040"/>
<text x="1600" y="167.1" font-size="19" fill="#707070" textLength="30.5" lengthAdjust="spacingAndGlyphs">210</text>
<rect x="1579.3" y="214.65" width="7.6" height="1.3" fill="#4a4a4a"/>
<rect x="1579.3" y="241.65" width="3.6" height="1.3" fill="#404040"/>
<text x="1600" y="220.9" font-size="19" fill="#707070" textLength="30.5" lengthAdjust="spacingAndGlyphs">205</text>
<rect x="1579.3" y="268.65" width="7.6" height="1.3" fill="#4a4a4a"/>
<rect x="1579.3" y="295" width="3.6" height="1.3" fill="#404040"/>
<text x="1600" y="274.9" font-size="19" fill="#707070" textLength="30.5" lengthAdjust="spacingAndGlyphs">200</text>
<rect x="1579.3" y="321.35" width="7.6" height="1.3" fill="#4a4a4a"/>
<rect x="1579.3" y="348.35" width="3.6" height="1.3" fill="#404040"/>
<text x="1600" y="327.6" font-size="19" fill="#707070" textLength="30.5" lengthAdjust="spacingAndGlyphs">195</text>
<rect x="1579.3" y="375.35" width="7.6" height="1.3" fill="#4a4a4a"/>
<rect x="1579.3" y="402.35" width="3.6" height="1.3" fill="#404040"/>
<text x="1600" y="381.6" font-size="19" fill="#707070" textLength="30.5" lengthAdjust="spacingAndGlyphs">190</text>
<rect x="1579.3" y="429.35" width="7.6" height="1.3" fill="#4a4a4a"/>
<rect x="1579.3" y="455.85" width="3.6" height="1.3" fill="#404040"/>
<text x="1600" y="435.6" font-size="19" fill="#707070" textLength="30.5" lengthAdjust="spacingAndGlyphs">185</text>
<rect x="1579.3" y="482.35" width="7.6" height="1.3" fill="#4a4a4a"/>
<rect x="1579.3" y="509.35" width="3.6" height="1.3" fill="#404040"/>
<text x="1600" y="488.6" font-size="19" fill="#707070" textLength="30.5" lengthAdjust="spacingAndGlyphs">180</text>
<rect x="1579.3" y="536.35" width="7.6" height="1.3" fill="#4a4a4a"/>
<rect x="1579.3" y="563.2" width="3.6" height="1.3" fill="#404040"/>
<text x="1600" y="542.6" font-size="19" fill="#707070" textLength="30.5" lengthAdjust="spacingAndGlyphs">175</text>
<rect x="1579.3" y="590.05" width="7.6" height="1.3" fill="#4a4a4a"/>
<rect x="1579.3" y="616.35" width="3.6" height="1.3" fill="#404040"/>
<text x="1600" y="596.3" font-size="19" fill="#707070" textLength="30.5" lengthAdjust="spacingAndGlyphs">170</text>
<rect x="1579.3" y="642.65" width="7.6" height="1.3" fill="#4a4a4a"/>
<text x="1600" y="648.9" font-size="19" fill="#707070" textLength="30.5" lengthAdjust="spacingAndGlyphs">165</text>
<rect x="1579.3" y="770.25" width="7.6" height="1.3" fill="#4a4a4a"/>
<text x="1594.3" y="776.5" font-size="19" fill="#707070" textLength="41" lengthAdjust="spacingAndGlyphs">1500</text>
<rect x="1579.3" y="852.55" width="7.6" height="1.3" fill="#4a4a4a"/>
<text x="1594.3" y="858.8" font-size="19" fill="#707070" textLength="41" lengthAdjust="spacingAndGlyphs">1000</text>
<rect x="1579.3" y="933.75" width="7.6" height="1.3" fill="#4a4a4a"/>
<text x="1604.7" y="940" font-size="19" fill="#707070" textLength="30.5" lengthAdjust="spacingAndGlyphs">500</text>
<rect x="1579.3" y="812.3" width="3.6" height="1.3" fill="#404040"/>
<rect x="1579.3" y="893.4" width="3.6" height="1.3" fill="#404040"/>
<rect x="1577.6" y="30.5" width="54.4" height="25" fill="#2b2e36"/>
<text x="1578.8" y="47.8" font-size="19.5" fill="#dcdcdc" textLength="56.5" lengthAdjust="spacingAndGlyphs">220.01</text>
<path d="M1535.5 17.2 L1543.8 25.5 L1535.5 33.8 L1527.2 25.5 Z" fill="none" stroke="#4a4a4a" stroke-width="1.3"/>
<rect x="1555.2" y="17.6" width="16.6" height="15.4" rx="2.5" fill="none" stroke="#5a5a5a" stroke-width="1.6"/>
<rect x="1565.2" y="20.2" width="4" height="10.4" fill="#808080"/>
<rect x="1578" y="997.6" width="40.4" height="24" fill="none" stroke="#3c3c3c" stroke-width="1.2"/>
<text x="1581.6" y="1014.6" font-size="19" fill="#747474" textLength="32" lengthAdjust="spacingAndGlyphs">X10</text>
</g>
<g id="volhdr" font-size="19.8">
<text x="-0.4" y="693.4" fill="#ffff00" textLength="158.8" lengthAdjust="spacingAndGlyphs">MAVOL2: 49626.31</text>
<text x="169.5" y="693.4" fill="#ff00ff" textLength="162.8" lengthAdjust="spacingAndGlyphs">MAVOL3: 73267.82</text>
<text x="341.8" y="693.4" fill="#00ff00" textLength="163.2" lengthAdjust="spacingAndGlyphs">MAVOL4: 88467.56</text>
<text x="513.3" y="693.4" fill="#c8c8c8" textLength="62.4" lengthAdjust="spacingAndGlyphs">降: 0.00</text>
<text x="584" y="693.4" fill="#0000ff" textLength="72.3" lengthAdjust="spacingAndGlyphs">VO: 0.00</text>
<text x="665" y="693.4" fill="#ff00ff" textLength="99" lengthAdjust="spacingAndGlyphs">地量柱: 0.00</text>
<text x="772.3" y="693.4" fill="#ffff00" textLength="97.7" lengthAdjust="spacingAndGlyphs">倍量柱: 0.00</text>
<text x="878.3" y="693.4" fill="#ff0000" textLength="98.4" lengthAdjust="spacingAndGlyphs">生命线: 0.00</text>
<text x="984.7" y="693.4" fill="#0000ff" textLength="98.3" lengthAdjust="spacingAndGlyphs">倍缩量: 0.00</text>
<text x="-5.6" y="725.6" fill="#ffff00" font-size="18" textLength="534" lengthAdjust="spacingAndGlyphs">封装,存储芯片,芯片概念,工业互联网,同花顺新质50,融资融券,沪股通</text>
</g>
<g id="volbars">
<path d="M3.5 1016.7 V788.05 H15.7 V1016.7" fill="none" stroke="#ee3636" stroke-width="1.35" stroke-linejoin="round"/>
<path d="M21.41 1016.7 V757.8 H33.61 V1016.7" fill="none" stroke="#ee3636" stroke-width="1.35" stroke-linejoin="round"/>
<path d="M38.11 1016.7 V792.3 H50.31 V1016.7" fill="none" stroke="#ee3636" stroke-width="1.35" stroke-linejoin="round"/>
<rect x="55.32" y="829.25" width="13.6" height="187.95" fill="#54ffff"/>
<rect x="55.62" y="1018" width="13" height="1.2" fill="#1a4852"/>
<rect x="73.22" y="838.5" width="13.6" height="178.7" fill="#54ffff"/>
<rect x="73.52" y="1018" width="13" height="1.2" fill="#1a4852"/>
<rect x="89.93" y="819" width="13.6" height="198.2" fill="#54ffff"/>
<rect x="90.23" y="1018" width="13" height="1.2" fill="#1a4852"/>
<rect x="107.84" y="820.25" width="13.6" height="196.95" fill="#54ffff"/>
<rect x="108.14" y="1018" width="13" height="1.2" fill="#1a4852"/>
<rect x="125.74" y="859.25" width="13.6" height="157.95" fill="#54ffff"/>
<rect x="126.04" y="1018" width="13" height="1.2" fill="#1a4852"/>
<path d="M143.15 1016.7 V883.8 H155.35 V1016.7" fill="none" stroke="#ee3636" stroke-width="1.35" stroke-linejoin="round"/>
<path d="M161.05 1016.7 V898.8 H173.25 V1016.7" fill="none" stroke="#ee3636" stroke-width="1.35" stroke-linejoin="round"/>
<path d="M195.67 1016.7 V893.05 H207.87 V1016.7" fill="none" stroke="#ee3636" stroke-width="1.35" stroke-linejoin="round"/>
<rect x="212.87" y="839.75" width="13.6" height="177.45" fill="#54ffff"/>
<rect x="213.17" y="1018" width="13" height="1.2" fill="#1a4852"/>
<path d="M231.48 1016.7 V912.55 H243.68 V1016.7" fill="none" stroke="#ee3636" stroke-width="1.35" stroke-linejoin="round"/>
<rect x="247.48" y="895.25" width="13.6" height="121.95" fill="#54ffff"/>
<rect x="247.78" y="1018" width="13" height="1.2" fill="#1a4852"/>
<rect x="265.39" y="911.75" width="13.6" height="105.45" fill="#54ffff"/>
<rect x="265.69" y="1018" width="13" height="1.2" fill="#1a4852"/>
<path d="M284 1016.7 V886.8 H296.2 V1016.7" fill="none" stroke="#ee3636" stroke-width="1.35" stroke-linejoin="round"/>
<rect x="300" y="923.75" width="13.6" height="93.45" fill="#54ffff"/>
<rect x="300.3" y="1018" width="13" height="1.2" fill="#1a4852"/>
<path d="M318.61 1016.7 V920.05 H330.81 V1016.7" fill="none" stroke="#ee3636" stroke-width="1.35" stroke-linejoin="round"/>
<rect x="352.52" y="915" width="13.6" height="102.2" fill="#54ffff"/>
<rect x="352.82" y="1018" width="13" height="1.2" fill="#1a4852"/>
<rect x="370.43" y="915" width="13.6" height="102.2" fill="#54ffff"/>
<rect x="370.73" y="1018" width="13" height="1.2" fill="#1a4852"/>
<path d="M389.03 1016.7 V916.8 H401.23 V1016.7" fill="none" stroke="#ee3636" stroke-width="1.35" stroke-linejoin="round"/>
<path d="M441.55 1016.7 V927.55 H453.75 V1016.7" fill="none" stroke="#ee3636" stroke-width="1.35" stroke-linejoin="round"/>
<rect x="457.56" y="874.25" width="13.6" height="142.95" fill="#54ffff"/>
<rect x="457.86" y="1018" width="13" height="1.2" fill="#1a4852"/>
<path d="M476.16 1016.7 V920.05 H488.36 V1016.7" fill="none" stroke="#ee3636" stroke-width="1.35" stroke-linejoin="round"/>
<path d="M494.07 1016.7 V935.05 H506.27 V1016.7" fill="none" stroke="#ee3636" stroke-width="1.35" stroke-linejoin="round"/>
<path d="M528.68 1016.7 V923.05 H540.88 V1016.7" fill="none" stroke="#ee3636" stroke-width="1.35" stroke-linejoin="round"/>
<path d="M563.29 1016.7 V824.3 H575.49 V1016.7" fill="none" stroke="#ee3636" stroke-width="1.35" stroke-linejoin="round"/>
<path d="M581.2 1016.7 V774.3 H593.4 V1016.7" fill="none" stroke="#ee3636" stroke-width="1.35" stroke-linejoin="round"/>
<rect x="598.4" y="886" width="13.6" height="131.2" fill="#54ffff"/>
<rect x="598.7" y="1018" width="13" height="1.2" fill="#1a4852"/>
<rect x="615.11" y="818.5" width="13.6" height="198.7" fill="#54ffff"/>
<rect x="615.41" y="1018" width="13" height="1.2" fill="#1a4852"/>
<rect x="633.02" y="899.75" width="13.6" height="117.45" fill="#54ffff"/>
<rect x="633.32" y="1018" width="13" height="1.2" fill="#1a4852"/>
<rect x="650.92" y="922.25" width="13.6" height="94.95" fill="#54ffff"/>
<rect x="651.22" y="1018" width="13" height="1.2" fill="#1a4852"/>
<path d="M668.33 1016.7 V881.05 H680.53 V1016.7" fill="none" stroke="#ee3636" stroke-width="1.35" stroke-linejoin="round"/>
<rect x="685.53" y="916" width="13.6" height="101.2" fill="#54ffff"/>
<rect x="685.83" y="1018" width="13" height="1.2" fill="#1a4852"/>
<path d="M720.85 1016.7 V954.3 H733.05 V1016.7" fill="none" stroke="#ee3636" stroke-width="1.35" stroke-linejoin="round"/>
<path d="M738.75 1016.7 V924.3 H750.95 V1016.7" fill="none" stroke="#ee3636" stroke-width="1.35" stroke-linejoin="round"/>
<rect x="755.96" y="929.75" width="13.6" height="87.45" fill="#54ffff"/>
<rect x="756.26" y="1018" width="13" height="1.2" fill="#1a4852"/>
<rect x="808.48" y="939" width="13.6" height="78.2" fill="#54ffff"/>
<rect x="808.78" y="1018" width="13" height="1.2" fill="#1a4852"/>
<path d="M825.88 1016.7 V956.05 H838.08 V1016.7" fill="none" stroke="#ee3636" stroke-width="1.35" stroke-linejoin="round"/>
<path d="M843.79 1016.7 V944.3 H855.99 V1016.7" fill="none" stroke="#ee3636" stroke-width="1.35" stroke-linejoin="round"/>
<path d="M861.69 1016.7 V908.05 H873.89 V1016.7" fill="none" stroke="#ee3636" stroke-width="1.35" stroke-linejoin="round"/>
<rect x="877.7" y="911.75" width="13.6" height="105.45" fill="#54ffff"/>
<rect x="878" y="1018" width="13" height="1.2" fill="#1a4852"/>
<path d="M896.31 1016.7 V954.3 H908.51 V1016.7" fill="none" stroke="#ee3636" stroke-width="1.35" stroke-linejoin="round"/>
<rect x="913.51" y="907.25" width="13.6" height="109.95" fill="#54ffff"/>
<rect x="913.81" y="1018" width="13" height="1.2" fill="#1a4852"/>
<path d="M930.92 1016.7 V943.8 H943.12 V1016.7" fill="none" stroke="#ee3636" stroke-width="1.35" stroke-linejoin="round"/>
<rect x="948.12" y="956.75" width="13.6" height="60.45" fill="#54ffff"/>
<rect x="948.42" y="1018" width="13" height="1.2" fill="#1a4852"/>
<path d="M966.73 1016.7 V920.05 H978.93 V1016.7" fill="none" stroke="#ee3636" stroke-width="1.35" stroke-linejoin="round"/>
<rect x="982.74" y="952.25" width="13.6" height="64.95" fill="#54ffff"/>
<rect x="983.04" y="1018" width="13" height="1.2" fill="#1a4852"/>
<rect x="1000.64" y="944.75" width="13.6" height="72.45" fill="#54ffff"/>
<rect x="1000.94" y="1018" width="13" height="1.2" fill="#1a4852"/>
<rect x="1018.55" y="952.25" width="13.6" height="64.95" fill="#54ffff"/>
<rect x="1018.85" y="1018" width="13" height="1.2" fill="#1a4852"/>
<rect x="1035.25" y="959.75" width="13.6" height="57.45" fill="#54ffff"/>
<rect x="1035.55" y="1018" width="13" height="1.2" fill="#1a4852"/>
<rect x="1053.16" y="954" width="13.6" height="63.2" fill="#54ffff"/>
<rect x="1053.46" y="1018" width="13" height="1.2" fill="#1a4852"/>
<rect x="1071.07" y="958" width="13.6" height="59.2" fill="#54ffff"/>
<rect x="1071.37" y="1018" width="13" height="1.2" fill="#1a4852"/>
<rect x="1087.77" y="944.75" width="13.6" height="72.45" fill="#54ffff"/>
<rect x="1088.07" y="1018" width="13" height="1.2" fill="#1a4852"/>
<rect x="1105.68" y="941.75" width="13.6" height="75.45" fill="#54ffff"/>
<rect x="1105.98" y="1018" width="13" height="1.2" fill="#1a4852"/>
<rect x="1123.58" y="950.5" width="13.6" height="66.7" fill="#54ffff"/>
<rect x="1123.88" y="1018" width="13" height="1.2" fill="#1a4852"/>
<rect x="1140.29" y="941.75" width="13.6" height="75.45" fill="#54ffff"/>
<rect x="1140.59" y="1018" width="13" height="1.2" fill="#1a4852"/>
<path d="M1158.9 1016.7 V928.8 H1171.1 V1016.7" fill="none" stroke="#ee3636" stroke-width="1.35" stroke-linejoin="round"/>
<rect x="1176.1" y="948" width="13.6" height="69.2" fill="#54ffff"/>
<rect x="1176.4" y="1018" width="13" height="1.2" fill="#1a4852"/>
<path d="M1193.51 1016.7 V934.8 H1205.71 V1016.7" fill="none" stroke="#ee3636" stroke-width="1.35" stroke-linejoin="round"/>
<path d="M1211.41 1016.7 V960.05 H1223.61 V1016.7" fill="none" stroke="#ee3636" stroke-width="1.35" stroke-linejoin="round"/>
<rect x="1228.62" y="946" width="13.6" height="71.2" fill="#54ffff"/>
<rect x="1228.92" y="1018" width="13" height="1.2" fill="#1a4852"/>
<rect x="1263.23" y="956.75" width="13.6" height="60.45" fill="#54ffff"/>
<rect x="1263.53" y="1018" width="13" height="1.2" fill="#1a4852"/>
<rect x="1281.14" y="905.5" width="13.6" height="111.7" fill="#54ffff"/>
<rect x="1281.44" y="1018" width="13" height="1.2" fill="#1a4852"/>
<rect x="1297.84" y="910.25" width="13.6" height="106.95" fill="#54ffff"/>
<rect x="1298.14" y="1018" width="13" height="1.2" fill="#1a4852"/>
<rect x="1315.75" y="880.25" width="13.6" height="136.95" fill="#54ffff"/>
<rect x="1316.05" y="1018" width="13" height="1.2" fill="#1a4852"/>
<path d="M1334.36 1016.7 V868.8 H1346.56 V1016.7" fill="none" stroke="#ee3636" stroke-width="1.35" stroke-linejoin="round"/>
<rect x="1368.27" y="947.75" width="13.6" height="69.45" fill="#54ffff"/>
<rect x="1368.57" y="1018" width="13" height="1.2" fill="#1a4852"/>
<path d="M1386.87 1016.7 V941.05 H1399.07 V1016.7" fill="none" stroke="#ee3636" stroke-width="1.35" stroke-linejoin="round"/>
<path d="M1403.58 1016.7 V930.55 H1415.78 V1016.7" fill="none" stroke="#ee3636" stroke-width="1.35" stroke-linejoin="round"/>
<rect x="1420.79" y="955.25" width="13.6" height="61.95" fill="#54ffff"/>
<rect x="1421.09" y="1018" width="13" height="1.2" fill="#1a4852"/>
<path d="M1456.1 1016.7 V931.8 H1468.3 V1016.7" fill="none" stroke="#ee3636" stroke-width="1.35" stroke-linejoin="round"/>
<path d="M1474 1016.7 V916.8 H1486.2 V1016.7" fill="none" stroke="#ee3636" stroke-width="1.35" stroke-linejoin="round"/>
<rect x="1491.21" y="931" width="13.6" height="86.2" fill="#54ffff"/>
<rect x="1491.51" y="1018" width="13" height="1.2" fill="#1a4852"/>
<rect x="1507.92" y="938.5" width="13.6" height="79.7" fill="#54ffff"/>
<rect x="1508.22" y="1018" width="13" height="1.2" fill="#1a4852"/>
</g>
<g id="ma">
<polyline points="0,846.75 62.5,842.25 132.5,840.25 175,839.25 219.5,836.75 254.5,835.25 290,833.5 360,833.5 377.5,832.25 395,832.25 405,833.5 500,833.5 517.5,837.25 545,841.75 561.25,844.75 570,846 621.5,846 640,847.25 658,847.25 674,850.5 692.5,852.25 707.5,854.75 744.5,854.75 755,856 795,856 831.25,859.75 867.5,862.25 902,865.25 920.5,865.5 936.5,868.5 972.5,871 1007.5,874.75 1042,877.25 1078,879.75 1112.5,881.5 1147,882.25 1160,883 1182.5,883.5 1210,886 1235.75,886.75 1245,888 1335,888 1350,889.25 1392.5,891 1412.5,893.5 1438,894 1461.75,894.75 1480,895.5 1490,896.75 1515,896.75" fill="none" stroke="#ff00ff" stroke-width="1.35" stroke-linejoin="round"/>
<polyline points="0,874.25 15,874.25 27.5,872.75 50,872.75 62.5,871.5 155,871.5 175,869.75 225,869.75 240,868.5 365,868.5 377.5,867.25 387.5,868.5 580,868.5 590,866.75 605,867.25 615,868.5 987.5,868.5 1000,869.75 1060,869.75 1070,871.5 1470,871.5 1475,870.25 1487.5,870.25 1492.5,871.5 1515,871.5" fill="none" stroke="#00f000" stroke-width="1.35" stroke-linejoin="round"/>
<polyline points="0,866.5 44.5,861 62.5,856.5 96.75,853.5 115,850.5 132.5,848.5 167,848 185,846.75 219.5,846.5 237,844.25 324.25,844.25 342.5,847.75 360,851 377.5,855.25 395,856.5 411.25,858 430,864 447.5,865.5 465,866 482.5,867.25 500,873 517.5,880.5 535,885.25 545,886 570,888.5 587.5,887.25 605.5,887.75 621.5,888.5 640,890.25 658,892.25 674,892.75 692.5,892.75 710.5,898.5 726.5,901.75 744.5,904 763,904.75 779.5,906 805.75,906.75 815.5,908 842.5,910.25 857.5,910.25 867.5,908.5 884.5,909.25 910,910.25 920.5,908.5 936.5,909 955,910.25 972.5,909.25 989.5,912.25 1007.5,913.5 1042,913.5 1060,915.25 1078,921 1094.5,924 1112.5,929.75 1130.5,933 1147,936.5 1164.5,937.75 1183,937.75 1199,940.25 1217,941.75 1235.75,940.5 1252.5,942.25 1288.25,942.25 1305,940.5 1323,939 1340,937.75 1375.5,937.75 1392.5,939 1428,938.5 1461.75,937.75 1480,936 1515,936" fill="none" stroke="#f0f000" stroke-width="1.35" stroke-linejoin="round"/>
<polyline points="-8,822 9.6,800 27.51,777.25 44.21,765.5 62.12,779.75 80.02,801 96.73,807.25 114.64,819.75 132.54,831 149.25,843.5 167.15,856.5 185.06,847.25 201.77,861 219.67,858.5 237.58,864 254.28,862.75 272.19,890.5 290.1,890.25 306.8,906.75 324.71,907.75 342.61,915.25 359.32,916.75 377.23,922.25 395.13,921.5 411.84,925.25 429.74,928.5 447.65,931.5 464.36,924 482.26,924 500.17,921.5 516.87,922.25 534.78,922.25 552.69,904 569.39,883.5 587.3,853.5 605.2,838.5 621.91,819 639.82,838.5 657.72,859.75 674.43,882.25 692.33,888 710.24,915.5 726.95,926.75 744.85,926.75 762.76,938.5 779.46,946 797.37,935 815.28,929.75 831.98,936 849.89,939 867.79,928.5 884.5,932.25 902.41,934.75 920.31,925.25 937.02,924.75 954.92,935.25 972.83,936 989.54,936 1007.44,944 1025.35,945.25 1042.05,946 1059.96,953.5 1077.87,953.5 1094.57,954 1112.48,952.25 1130.38,949.75 1147.09,948 1165,941.75 1182.9,942.25 1199.61,941 1217.51,943.5 1235.42,943.5 1252.13,952.75 1270.03,953.5 1287.94,948 1304.64,938.5 1322.55,924.75 1340.46,904.25 1357.16,904.25 1375.07,912.25 1392.97,917.75 1409.68,929.25 1427.59,945.25 1445.49,929 1462.2,923 1480.1,916.75 1498.01,917.75 1514.72,914" fill="none" stroke="#ffffff" stroke-width="1.35" stroke-linejoin="round"/>
</g>
<g id="volspecial" font-size="17">
<rect x="177.21" y="773" width="16.5" height="244.2" fill="#ffff00"/>
<rect x="179.06" y="1018" width="13" height="1.2" fill="#1a4852"/>
<text x="185.86" y="774.6" fill="#ffff00">倍</text>
<rect x="334.76" y="935" width="16.5" height="82.2" fill="#ff00ff"/>
<rect x="336.61" y="1018" width="13" height="1.2" fill="#1a4852"/>
<text x="343.41" y="936.6" fill="#ff00ff">地</text>
<rect x="403.99" y="947.25" width="16.5" height="69.95" fill="#ff00ff"/>
<rect x="405.84" y="1018" width="13" height="1.2" fill="#1a4852"/>
<text x="412.64" y="948.85" fill="#ff00ff">地</text>
<rect x="421.89" y="949.75" width="16.5" height="67.45" fill="#ff00ff"/>
<rect x="423.74" y="1018" width="13" height="1.2" fill="#1a4852"/>
<text x="430.54" y="951.35" fill="#ff00ff">地</text>
<rect x="509.02" y="956" width="16.5" height="61.2" fill="#ff00ff"/>
<rect x="510.87" y="1018" width="13" height="1.2" fill="#1a4852"/>
<text x="517.67" y="957.6" fill="#ff00ff">地</text>
<rect x="544.84" y="788" width="16.5" height="229.2" fill="#ffff00"/>
<rect x="546.69" y="1018" width="13" height="1.2" fill="#1a4852"/>
<text x="553.49" y="789.6" fill="#ffff00">倍</text>
<rect x="702.39" y="957.75" width="16.5" height="59.45" fill="#ff00ff"/>
<rect x="704.24" y="1018" width="13" height="1.2" fill="#1a4852"/>
<text x="711.04" y="959.35" fill="#ff00ff">地</text>
<rect x="771.61" y="960.5" width="16.5" height="56.7" fill="#ff00ff"/>
<rect x="773.46" y="1018" width="13" height="1.2" fill="#1a4852"/>
<text x="780.26" y="962.1" fill="#ff00ff">地</text>
<rect x="789.52" y="896" width="16.5" height="121.2" fill="#ffff00"/>
<rect x="791.37" y="1018" width="13" height="1.2" fill="#1a4852"/>
<text x="798.17" y="897.6" fill="#ffff00">倍</text>
<rect x="1244.28" y="972.75" width="16.5" height="44.45" fill="#ff00ff"/>
<rect x="1246.13" y="1018" width="13" height="1.2" fill="#1a4852"/>
<text x="1252.93" y="974.35" fill="#ff00ff">地</text>
<rect x="1349.31" y="953" width="16.5" height="64.2" fill="#0000ff"/>
<rect x="1351.16" y="1018" width="13" height="1.2" fill="#1a4852"/>
<rect x="1437.64" y="851" width="16.5" height="166.2" fill="#ff0000"/>
<rect x="1439.49" y="1018" width="13" height="1.2" fill="#1a4852"/>
<text x="1446.29" y="851.2" fill="#ffff00">倍</text>
</g>
<rect x="0" y="1016.2" width="1515" height="1.7" fill="#0000ff"/>
<ellipse cx="1443" cy="933.5" rx="28" ry="86" fill="none" stroke="#ffff00" stroke-width="7.2"/>
</svg>
</body></html>
